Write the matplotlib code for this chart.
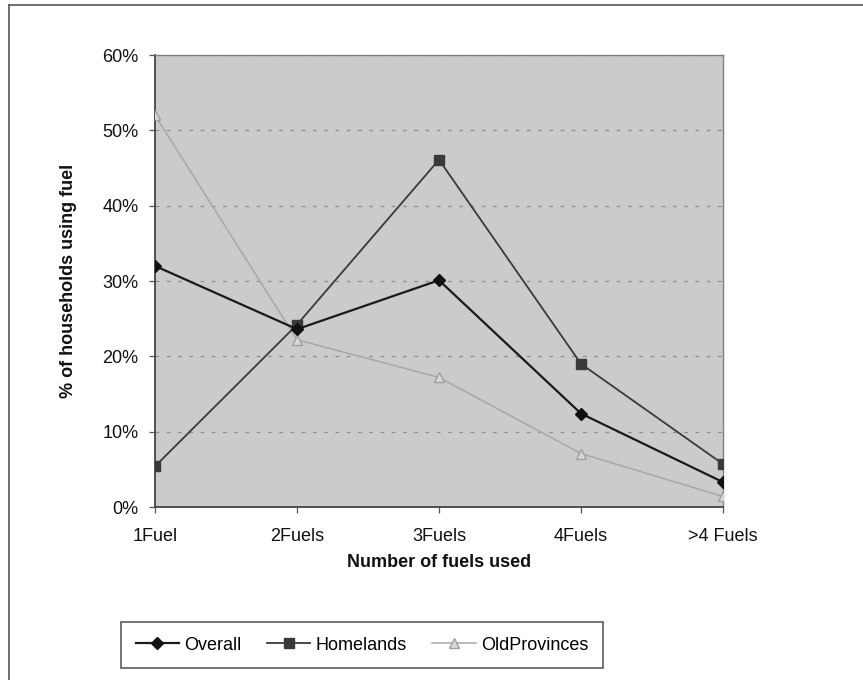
import matplotlib
matplotlib.use("Agg")
import matplotlib.pyplot as plt
from matplotlib.lines import Line2D
from matplotlib.ticker import FuncFormatter

# Share of households by number of fuels used (percent)
categories = ["1Fuel", "2Fuels", "3Fuels", "4Fuels", ">4 Fuels"]
overall = [32.0, 23.6, 30.1, 12.4, 3.3]
homelands = [5.4, 24.2, 46.1, 19.0, 5.7]
old_provinces = [52.0, 22.2, 17.2, 7.1, 1.4]

plt.rcParams["font.family"] = ["Liberation Sans", "DejaVu Sans"]

fig = plt.figure(figsize=(8.63, 6.80), dpi=100)
ax = fig.add_axes([155 / 863, 1 - 507 / 680, 568 / 863, 452 / 680])
ax.set_facecolor("#cbcbcb")

x = range(len(categories))
ax.plot(x, old_provinces, color="#a8a8a8", lw=1.1, marker="^", ms=7,
        mfc="#d8d8d8", mec="#a0a0a0", label="OldProvinces", zorder=3)
ax.plot(x, homelands, color="#3a3a3a", lw=1.3, marker="s", ms=7.5,
        mfc="#3a3a3a", mec="#3a3a3a", label="Homelands", zorder=4)
ax.plot(x, overall, color="#1a1a1a", lw=1.6, marker="D", ms=6,
        mfc="#111111", mec="#111111", label="Overall", zorder=5)

ax.set_xlim(0, len(categories) - 1)
ax.set_ylim(0, 60)
ax.set_yticks(range(0, 61, 10))
ax.yaxis.set_major_formatter(FuncFormatter(lambda v, _: f"{v:.0f}%"))
ax.set_xticks(list(x))
ax.set_xticklabels(categories)

ax.grid(axis="y", color="#8e8e8e", linestyle=(0, (3, 6)), lw=0.9)
ax.set_axisbelow(True)

for side in ["left", "bottom"]:
    ax.spines[side].set_color("#444444")
    ax.spines[side].set_linewidth(1.3)
for side in ["top", "right"]:
    ax.spines[side].set_color("#808080")
    ax.spines[side].set_linewidth(1.0)

ax.tick_params(axis="both", direction="out", length=4, width=0.9,
               color="#555555", labelsize=13, labelcolor="#111111")
ax.tick_params(axis="x", pad=11)
ax.tick_params(axis="y", pad=8)

ax.set_xlabel("Number of fuels used", fontsize=13, fontweight="bold",
              color="#111111")
ax.xaxis.set_label_coords(0.5, (507 - 554) / 452)
ax.set_ylabel("% of households using fuel", fontsize=13, fontweight="bold",
              color="#111111")
ax.yaxis.set_label_coords((77 - 155) / 568, 0.5)

handles, labels = ax.get_legend_handles_labels()
order = [2, 1, 0]
leg = fig.legend([handles[i] for i in order], [labels[i] for i in order],
                 loc="center", bbox_to_anchor=(362 / 863, 1 - 645 / 680),
                 ncol=3, fontsize=13, frameon=True, fancybox=False,
                 edgecolor="#333333", handlelength=2.4, columnspacing=1.4,
                 borderpad=0.8, handletextpad=0.3)
leg.get_frame().set_linewidth(1.2)

# outer frame around the chart
fig.add_artist(Line2D([9 / 863, 9 / 863], [0, 1 - 5 / 680],
                      transform=fig.transFigure, color="#555555", lw=1.2))
fig.add_artist(Line2D([9 / 863, 1], [1 - 5 / 680, 1 - 5 / 680],
                      transform=fig.transFigure, color="#555555", lw=1.2))

fig.savefig("out.png", dpi=100)
